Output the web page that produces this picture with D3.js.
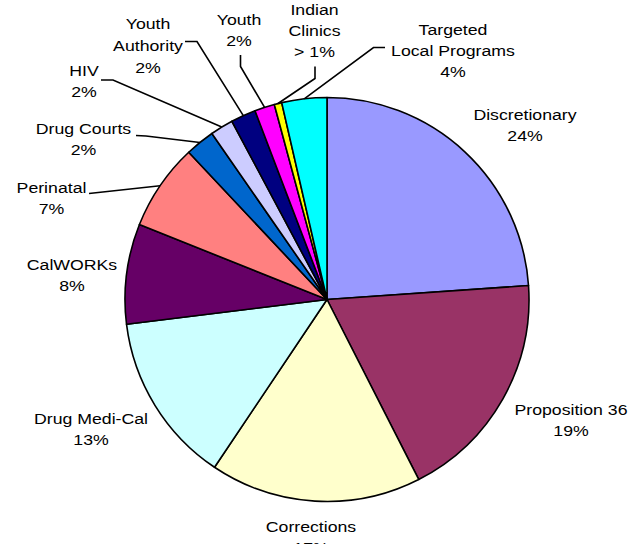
<!DOCTYPE html>
<html>
<head>
<meta charset="utf-8">
<script src="https://cdn.jsdelivr.net/npm/d3@7"></script>
<style>
  html, body { margin: 0; padding: 0; background: #fff; }
  #chart { width: 639px; height: 544px; overflow: hidden; }
  text { font-family: "Liberation Sans", Arial, sans-serif; font-size: 15px; fill: #000; }
</style>
</head>
<body>
<div id="chart"></div>
<script>
// slices, clockwise from 12 o'clock
const categories = ['Discretionary', 'Proposition 36', 'Corrections', 'Drug Medi-Cal', 'CalWORKs',
  'Perinatal', 'Drug Courts', 'HIV', 'Youth Authority', 'Youth', 'Indian Clinics', 'Targeted Local Programs'];
const values = [23.9, 18.6, 16.9, 13.65, 8.0, 6.95, 2.35, 1.85, 2.0, 1.6, 0.6, 3.6];
const pctLabels = ['24%', '19%', '17%', '13%', '8%', '7%', '2%', '2%', '2%', '2%', '> 1%', '4%'];
const colors = ['#9999ff', '#993366', '#ffffcc', '#ccffff', '#660066', '#ff8080',
  '#0066cc', '#ccccff', '#000080', '#ff00ff', '#ffff00', '#00ffff'];

document.addEventListener('DOMContentLoaded', () => {
  const width = 639;
  const height = 544;
  const cx = 327, cy = 299.5, radius = 202;
  const lineGap = 21;

  // label placement: centre x, first baseline, line split, leader start + elbow
  const layout = [
    { x: 525, y: 119.5, lines: ['Discretionary'] },
    { x: 571, y: 414.5, lines: ['Proposition 36'] },
    { x: 311, y: 531.5, lines: ['Corrections'] },
    { x: 91, y: 424, lines: ['Drug Medi-Cal'] },
    { x: 72, y: 270, lines: ['CalWORKs'] },
    { x: 51.5, y: 192.5, lines: ['Perinatal'], leader: [[89, 193.5]] },
    { x: 83.5, y: 133.5, lines: ['Drug Courts'], leader: [[136, 135.5], [146, 136]] },
    { x: 84, y: 76, lines: ['HIV'], leader: [[101, 80], [113, 80]] },
    { x: 148, y: 28.5, lines: ['Youth', 'Authority'], gap: 22, leader: [[185, 41.5], [197, 41.5]] },
    { x: 239, y: 25, lines: ['Youth'], leader: [[240.5, 55], [240.5, 66.5]] },
    { x: 314.5, y: 15, lines: ['Indian', 'Clinics'], leader: [[315, 66.5], [315, 78.5]] },
    { x: 453, y: 35, lines: ['Targeted', 'Local Programs'], leader: [[385, 47.5], [373.5, 47.5]] }
  ];

  const svg = d3.select('#chart')
                .append('svg')
                .attr('width', width)
                .attr('height', height);

  const pie = d3.pie().sort(null).value((d) => d);
  const arcs = pie(values);

  const arc = d3.arc().innerRadius(0).outerRadius(radius);
  const edgeArc = d3.arc().innerRadius(radius).outerRadius(radius);

  const g = svg.append('g').attr('transform', 'translate(' + cx + ',' + cy + ')');

  g.selectAll('path.slice')
    .data(arcs)
    .enter()
    .append('path')
    .attr('class', 'slice')
    .attr('d', arc)
    .attr('fill', (d, i) => colors[i])
    .attr('stroke', '#000')
    .attr('stroke-width', 1.6)
    .attr('stroke-linejoin', 'round');

  // leader lines
  const line = d3.line();
  arcs.forEach((d, i) => {
    const l = layout[i];
    if (!l.leader) return;
    const edge = edgeArc.centroid(d);
    const pts = l.leader.concat([[edge[0] + cx, edge[1] + cy]]);
    svg.append('path')
      .attr('d', line(pts))
      .attr('fill', 'none')
      .attr('stroke', '#000')
      .attr('stroke-width', 1.6);
  });

  // labels
  arcs.forEach((d, i) => {
    const l = layout[i];
    const gap = l.gap || lineGap;
    const rows = l.lines.concat([pctLabels[i]]);
    rows.forEach((t, k) => {
      svg.append('text')
        .attr('text-anchor', 'middle')
        .attr('transform', 'translate(' + l.x + ',' + (l.y + k * gap) + ') scale(1.18,1)')
        .text(t);
    });
  });
});
</script>
</body>
</html>
